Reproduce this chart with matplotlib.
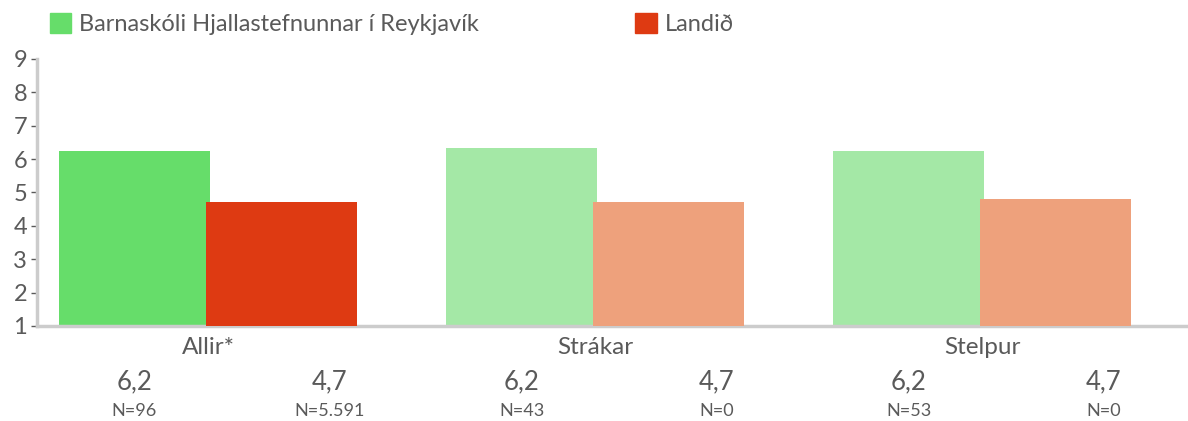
import numpy as np
from matplotlib import pyplot as plt
from matplotlib.patches import Patch

categories = ["Allir*", "Strákar", "Stelpur"]
school_values = [6.25, 6.33, 6.25]
country_values = [4.72, 4.72, 4.80]
school_labels = ["6,2", "6,2", "6,2"]
country_labels = ["4,7", "4,7", "4,7"]
school_n = ["N=96", "N=43", "N=53"]
country_n = ["N=5.591", "N=0", "N=0"]
series_names = ["Barnaskóli Hjallastefnunnar í Reykjavík", "Landið"]

school_colors = ["#66DD6A", "#A4E8A6", "#A4E8A6"]
country_colors = ["#DE3A12", "#EEA17C", "#EEA17C"]

plt.rcParams["font.family"] = ["Lato", "DejaVu Sans"]
text_color = "#5a5a5a"

fig = plt.figure(figsize=(11.88, 4.21), dpi=100)
ax = fig.add_axes([0.0311, 0.2257, 0.9689, 0.6343])

xs = np.arange(len(categories))
width = 0.39
ax.bar(xs - 0.19, [v - 1 for v in school_values], width, bottom=1,
       color=school_colors, zorder=2)
ax.bar(xs + 0.19, [v - 1 for v in country_values], width, bottom=1,
       color=country_colors, zorder=3)

ax.set_xlim(-0.442, 2.532)
ax.set_ylim(1, 9)
ax.set_yticks(range(1, 10))
ax.tick_params(axis="y", length=4, width=1, color=text_color, pad=3,
               labelsize=17, labelcolor=text_color)
ax.set_xticks(xs)
ax.set_xticklabels(categories)
ax.tick_params(axis="x", length=0, pad=8, labelsize=17.5, labelcolor=text_color)

for side in ["top", "right"]:
    ax.spines[side].set_visible(False)
for side in ["left", "bottom"]:
    ax.spines[side].set_color("#CCCCCC")
    ax.spines[side].set_linewidth(2.5)

trans = ax.get_xaxis_transform()
for i in range(len(categories)):
    ax.text(xs[i] - 0.19, -0.21, school_labels[i], transform=trans,
            ha="center", va="center", fontsize=18.5, color=text_color)
    ax.text(xs[i] + 0.315, -0.21, country_labels[i], transform=trans,
            ha="center", va="center", fontsize=18.5, color=text_color)
    ax.text(xs[i] - 0.19, -0.32, school_n[i], transform=trans,
            ha="center", va="center", fontsize=13, color=text_color)
    ax.text(xs[i] + 0.315, -0.32, country_n[i], transform=trans,
            ha="center", va="center", fontsize=13, color=text_color)

handles = [Patch(color=school_colors[0]), Patch(color=country_colors[0])]
fig.legend([handles[0]], [series_names[0]], loc="center left",
           bbox_to_anchor=(0.024, 0.942), frameon=False, fontsize=17,
           handlelength=0.9, handleheight=0.9, handletextpad=0.35,
           labelcolor=text_color)
fig.legend([handles[1]], [series_names[1]], loc="center left",
           bbox_to_anchor=(0.517, 0.942), frameon=False, fontsize=17,
           handlelength=0.9, handleheight=0.9, handletextpad=0.35,
           labelcolor=text_color)

plt.savefig("out.png")
